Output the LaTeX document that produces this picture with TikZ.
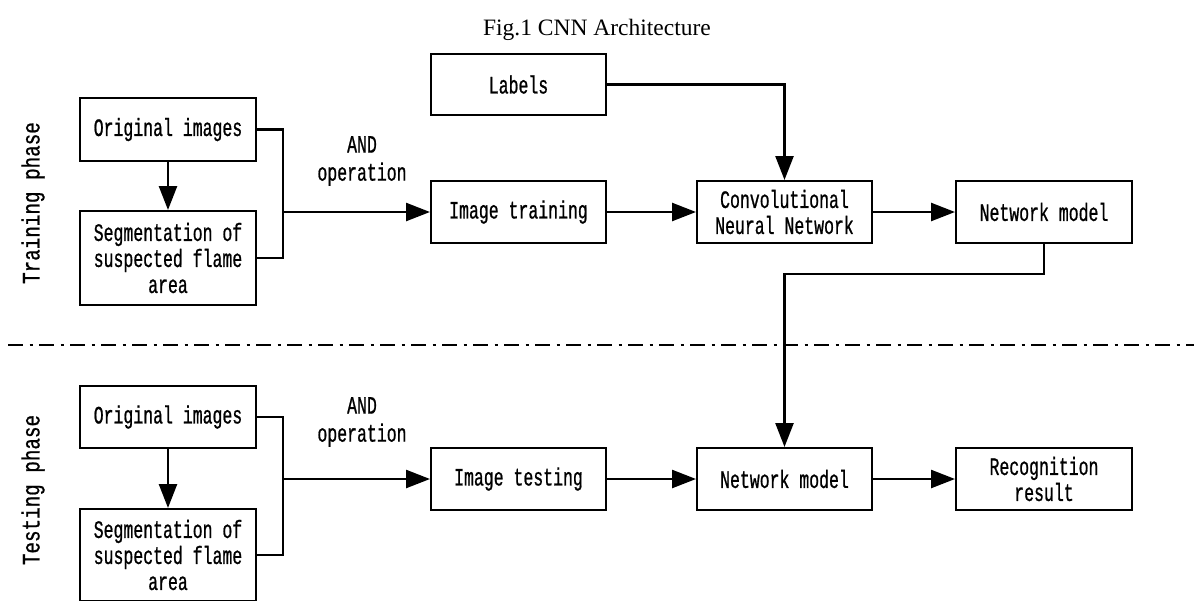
\documentclass[tikz,border=0pt]{standalone}
\usepackage{fontspec}
\setmainfont{Liberation Serif}
\newfontfamily\boxfnt[FakeStretch=0.66,FakeBold=0.8]{Liberation Mono}
\newfontfamily\sidefnt[FakeStretch=0.77,FakeBold=0.8]{Liberation Mono}
\usetikzlibrary{arrows.meta}
\tikzset{
  blk/.style={draw, line width=2pt, minimum width=175pt, minimum height=62pt,
    inner sep=0pt, align=center, font=\boxfnt\fontsize{25}{26}\selectfont},
  lbl/.style={inner sep=0pt, align=center, font=\boxfnt\fontsize{25}{28}\selectfont},
  side/.style={inner sep=0pt, rotate=90, font=\sidefnt\fontsize{25}{26}\selectfont},
  arr/.style={line width=2.5pt, -{Triangle[length=24pt,width=18pt]}},
  ln/.style={line width=2.5pt},
  dashdotline/.style={line width=2.5pt, dash pattern=on 15pt off 6.5pt on 3pt off 6.5pt}
}
\begin{document}
\begin{tikzpicture}[x=1pt,y=-1pt]
\useasboundingbox (0,0) rectangle (1194,600);
\begin{scope}
\clip (0,0) rectangle (1194,600);
% title
\node[font=\fontsize{23.5}{28}\selectfont, inner sep=0pt] (title) at (597,30) {Fig.1 CNN Architecture};
% side labels
\node[side] (train) at (33,203) {Training phase};
\node[side] (test) at (33,490) {Testing phase};
% training phase
\node[blk, minimum width=176pt, minimum height=63pt] (orig1) at (168,129.5) {Original images};
\node[blk, minimum width=176pt, minimum height=94pt] (seg1) at (168,258) {Segmentation of\\suspected flame\\area};
\node[blk, minimum height=61pt] (labels) at (518.5,84.5) {Labels};
\node[blk] (imgtrain) at (518.5,212) {Image training};
\node[blk] (cnn) at (784.5,212) {Convolutional\\Neural Network};
\node[blk, minimum width=176pt] (net1) at (1044,212) {Network model};
\node[lbl] (and1) at (362,161) {AND\\operation};
\coordinate (j1) at (283,212);
% testing phase
\node[blk, minimum width=176pt] (orig2) at (168,417) {Original images};
\node[blk, minimum width=176pt, minimum height=92pt] (seg2) at (168,555) {Segmentation of\\suspected flame\\area};
\node[blk] (imgtest) at (518.5,479) {Image testing};
\node[blk] (net2) at (784.5,479) {Network model};
\node[blk, minimum width=176pt] (recog) at (1044,479) {Recognition\\result};
\node[lbl] (and2) at (362,422) {AND\\operation};
\coordinate (j2) at (283,479);
% separator
\coordinate (sepL) at (8,345);
\coordinate (sepR) at (1194,345);
\draw[dashdotline] (sepL) -- (sepR);
% training connectors
\draw[arr] (orig1) -- (seg1);
\draw[ln] (orig1.east) -| (j1 |- seg1.east) -- (seg1.east);
\draw[arr] (j1) -- (imgtrain.west);
\draw[arr] (imgtrain) -- (cnn);
\draw[arr] (labels.east) -| (cnn.north);
\draw[arr] (cnn) -- (net1);
\draw[arr] (net1.south) -- ++(0,30) -| (net2.north);
% testing connectors
\draw[arr] (orig2) -- (seg2);
\draw[ln] (orig2.east) -| (j2 |- seg2.east) -- (seg2.east);
\draw[arr] (j2) -- (imgtest.west);
\draw[arr] (imgtest) -- (net2);
\draw[arr] (net2) -- (recog);
\end{scope}
\end{tikzpicture}
\end{document}
